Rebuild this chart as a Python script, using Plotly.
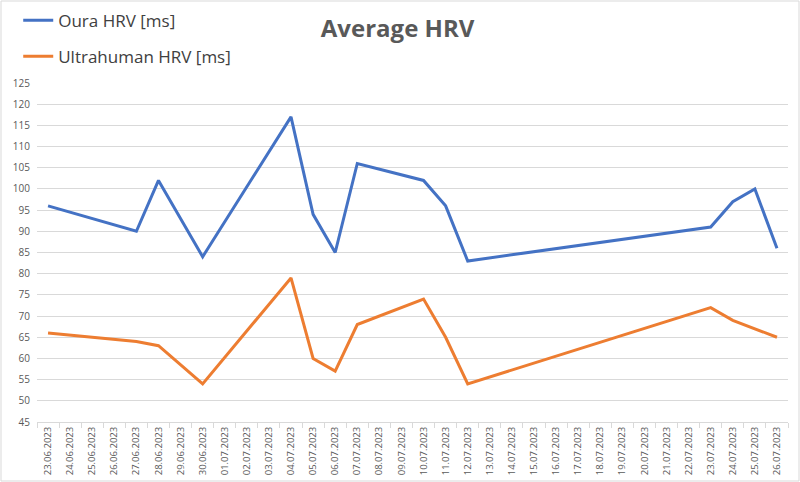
import plotly.graph_objects as go

all_dates = ["23.06.2023", "24.06.2023", "25.06.2023", "26.06.2023", "27.06.2023", "28.06.2023",
             "29.06.2023", "30.06.2023", "01.07.2023", "02.07.2023", "03.07.2023", "04.07.2023",
             "05.07.2023", "06.07.2023", "07.07.2023", "08.07.2023", "09.07.2023", "10.07.2023",
             "11.07.2023", "12.07.2023", "13.07.2023", "14.07.2023", "15.07.2023", "16.07.2023",
             "17.07.2023", "18.07.2023", "19.07.2023", "20.07.2023", "21.07.2023", "22.07.2023",
             "23.07.2023", "24.07.2023", "25.07.2023", "26.07.2023"]

oura_dates = ["23.06.2023", "27.06.2023", "28.06.2023", "30.06.2023", "04.07.2023", "05.07.2023",
              "06.07.2023", "07.07.2023", "10.07.2023", "11.07.2023", "12.07.2023", "23.07.2023",
              "24.07.2023", "25.07.2023", "26.07.2023"]
oura_hrv = [96, 90, 102, 84, 117, 94, 85, 106, 102, 96, 83, 91, 97, 100, 86]

uh_dates = ["23.06.2023", "27.06.2023", "28.06.2023", "30.06.2023", "04.07.2023", "05.07.2023",
            "06.07.2023", "07.07.2023", "10.07.2023", "11.07.2023", "12.07.2023", "23.07.2023",
            "24.07.2023", "26.07.2023"]
uh_hrv = [66, 64, 63, 54, 79, 60, 57, 68, 74, 65, 54, 72, 69, 65]

y_ticks = list(range(45, 130, 5))

fig = go.Figure()
fig.add_trace(go.Scatter(x=oura_dates, y=oura_hrv, mode="lines", name="Oura HRV [ms]",
                         line=dict(color="#4472C4", width=3), legendgroup="a"))
fig.add_trace(go.Scatter(x=uh_dates, y=uh_hrv, mode="lines", name="Ultrahuman HRV [ms]",
                         line=dict(color="#ED7D31", width=3), legendgroup="b"))

L, R, T, B = 37, 12, 83, 60
W, H = 800, 482
pw, ph = W - L - R, H - T - B

fig.update_layout(
    width=W, height=H,
    margin=dict(l=L, r=R, t=T, b=B, autoexpand=False),
    paper_bgcolor="white", plot_bgcolor="white",
    font=dict(family="Open Sans, Liberation Sans, sans-serif", color="#595959"),
    title=dict(text="<b>Average HRV</b>", x=0.497, xanchor="center", y=0.94, yanchor="middle",
               font=dict(size=24, color="#595959")),
    showlegend=True,
    legend=dict(x=-0.025, y=1.237, xanchor="left", yanchor="top", orientation="v",
                font=dict(size=17, color="#404040"), tracegroupgap=11,
                bgcolor="rgba(0,0,0,0)", itemwidth=30),
    xaxis=dict(type="category", categoryorder="array", categoryarray=all_dates,
               tickvals=all_dates, ticktext=all_dates, automargin=False,
               range=[-0.5, len(all_dates) - 0.5], tickangle=-90,
               tickfont=dict(size=9.5, color="#595959"), showgrid=False,
               showline=True, linecolor="#d9d9d9", linewidth=1,
               ticks="outside", tickson="boundaries", ticklen=5, tickcolor="#d9d9d9"),
    yaxis=dict(range=[45, 125], tickvals=y_ticks, tickfont=dict(size=10, color="#595959"),
               showgrid=True, gridcolor="#d9d9d9", gridwidth=1, zeroline=False, automargin=False,
               showline=False, ticks="", ticklabelstandoff=6),
    shapes=[dict(type="rect", xref="paper", yref="paper",
                 x0=(1 - L) / pw, x1=(W - 1 - L) / pw,
                 y0=-(H - 1 - T - ph) / ph, y1=1 + (T - 1) / ph,
                 line=dict(color="#d9d9d9", width=1), fillcolor="rgba(0,0,0,0)", layer="below")],
)

fig.update_traces(connectgaps=True)
fig.write_html("out.html", config={"displayModeBar": False},
               post_script="document.body.style.margin='0';document.body.style.padding='0';")
